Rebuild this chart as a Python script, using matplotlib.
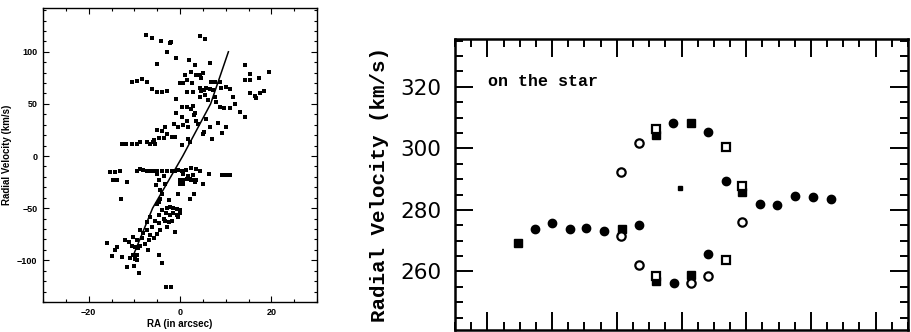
import matplotlib
matplotlib.use("Agg")
import matplotlib.pyplot as plt
from matplotlib.ticker import MultipleLocator

# ---------------- Left panel data (RA in arcsec, radial velocity km/s) -------------
ra_pts = [-7.4, -6.2, -4.1, -2.2, -2.0, -2.9, -5.1, -0.9, 4.4, 5.5, 2.0, 3.3, 6.5,
          -10.5, -9.5, -8.4, -7.3, -6.2, -5.1, -4.0, -2.9, -0.9, 0.0, 0.6, 1.1, 2.5, 3.5,
          4.4, 5.1, 4.6, 1.5, 2.6, 1.5, 2.8, 4.4, 4.6, 5.2, 5.8, 6.5, 7.3, 6.7, 7.6, 8.7,
          4.4, 5.5, 6.2, 7.6, 7.9, 8.9, 10.0, 10.9, 8.7, 9.6, 10.9, 12.0, 11.6, 13.1, 14.2,
          14.2, 15.3, 15.4, 14.2, 15.3, 16.4, 16.6, 17.5, 18.5, 19.5, 17.3,
          0.4, 1.5, 2.3, 2.8, 3.3, -0.9, 0.4, 1.5, 1.8, -1.3, -0.4, 0.6, 3.1, 3.6, 4.0,
          5.7, 6.5, 8.4, 10.0, 9.1, 5.1, 5.2, 7.1, -3.3, -4.0, -5.1, -2.9, -1.8, -1.1,
          -4.5, -3.6, -5.7, -5.5, 0.4, 1.8, 2.2,
          -12.7, -11.8, -10.5, -9.5, -8.7, -7.3, -6.5, -5.9,
          -15.3, -14.2, -14.7, -13.8, -13.1, -11.5, -12.9,
          -9.5, -8.7, -8.0, -7.3, -6.5, -5.8, -5.1, -4.0, -2.9, -1.8, -1.1, -0.4,
          0.4, 1.3, 2.5, 3.6, 4.4, 0.6, 1.8, 2.8, 2.9, 0.0, 0.7, 1.5, 2.2, 2.5, 3.6,
          0.0, 0.6, 3.3, 5.1, 6.4, 9.1, 10.0, 10.9,
          -5.1, -3.6, -4.7, -5.2, -4.4, -3.3, -4.0, -4.4, -4.7, -5.1, -2.3,
          -0.4, 2.2, 3.1, -2.2, -1.5, -0.7, 0.0, -2.9, -3.1, -2.2, -1.5, -0.7, 0.0, -0.4,
          -4.0, -4.7, -5.5, -4.5, -3.6, -3.3, -2.5, -1.8,
          -6.5, -7.3, -6.2, -4.4, -5.1, -2.9, -1.1,
          -8.7, -8.0, -7.3, -6.5, -5.8, -6.7, -6.9,
          -10.2, -9.5, -8.7, -7.6, -8.4, -10.5, -9.8, -9.1, -12.0, -11.1, -15.9,
          -13.8, -14.2, -14.9, -12.7, -10.9, -10.3, -9.8, -9.5,
          -11.5, -10.0, -9.5, -8.9, -4.5, -4.0, -3.1, -2.0]
vel_pts = [116, 113, 110, 108, 109, 100, 88, 94, 115, 112, 92, 87, 89,
           71, 72, 74, 71, 64, 61, 61, 62, 55, 70, 70, 78, 81, 78,
           78, 80, 75, 73, 70, 61, 61, 65, 62, 63, 65, 64, 63, 71, 71, 71,
           57, 59, 54, 57, 52, 65, 66, 64, 47, 46, 46, 50, 57, 42, 37,
           87, 79, 73, 73, 60, 58, 56, 60, 62, 81, 75,
           47, 47, 45, 48, 41, 41, 37, 34, 28, 31, 28, 30, 39, 34, 31,
           36, 28, 32, 28, 22, 21, 23, 16, 28, 24, 25, 21, 18, 18,
           17, 17, 15, 12, 11, 16, 13,
           12, 12, 12, 12, 13, 13, 12, 13,
           -15, -15, -23, -23, -14, -25, -41,
           -14, -12, -13, -14, -14, -14, -14, -14, -14, -14, -14, -13,
           -14, -13, -11, -12, -14, -17, -19, -18, -23, -23, -23, -22, -22, -23, -23,
           -27, -27, -25, -27, -17, -18, -18, -18,
           -17, -19, -23, -28, -33, -27, -36, -41, -44, -46, -42,
           -36, -41, -36, -49, -50, -51, -52, -50, -55, -57, -55, -57, -55, -58,
           -52, -57, -62, -64, -60, -62, -63, -62,
           -58, -63, -68, -71, -75, -68, -73,
           -71, -74, -71, -76, -79, -81, -90,
           -78, -81, -86, -84, -79, -86, -87, -88, -81, -82, -83,
           -87, -90, -96, -97, -98, -95, -99, -95,
           -106, -105, -100, -112, -95, -103, -126, -126]

# rotation-curve fit drawn as a line
fit_ra = [-10.2, -6.0, 0.6, 6.7, 10.6]
fit_vel = [-95, -50, 0, 50, 100]

# ---------------- Right panel data ("on the star") -------------
fc_x = [-2.26, -2.00, -1.73, -1.47, -1.19, -0.65, -0.12, -0.13, 0.41, 0.41, 0.68,
        1.21, 1.47, 1.76, 2.03, 2.31]
fc_y = [273.7, 275.7, 273.8, 274.2, 273.2, 275.1, 256.2, 308.3, 305.4, 265.7, 289.5,
        281.9, 281.6, 284.5, 284.1, 283.5]
fs_x = [-2.53, -0.92, -0.40, -0.39, 0.14, 0.14, 0.94]
fs_y = [269.2, 273.7, 304.3, 257.0, 308.3, 259.0, 285.8]
oc_x = [-0.94, -0.93, -0.66, -0.66, 0.14, 0.41, 0.94]
oc_y = [271.4, 292.4, 301.8, 262.2, 256.3, 258.6, 276.2]
os_x = [-0.40, -0.39, 0.68, 0.68, 0.94]
os_y = [306.3, 258.4, 300.5, 263.8, 287.8]
small_x = [-0.02]
small_y = [287.0]

fig = plt.figure(figsize=(9.11, 3.32), dpi=100)

# ---------------- Left panel -------------
ax1 = fig.add_axes([43 / 911, 30 / 332, 274 / 911, 294 / 332])
ax1.scatter(ra_pts, vel_pts, s=7, marker='s', color='black', linewidths=0)
ax1.plot(fit_ra, fit_vel, color='black', lw=1.1)
ax1.set_xlim(-30, 30)
ax1.set_ylim(-140, 142)
ax1.xaxis.set_major_locator(MultipleLocator(20))
ax1.xaxis.set_minor_locator(MultipleLocator(5))
ax1.yaxis.set_major_locator(MultipleLocator(50))
ax1.yaxis.set_minor_locator(MultipleLocator(10))
ax1.tick_params(which='both', direction='in', top=True, right=True, width=0.8)
ax1.tick_params(which='major', length=4, labelsize=6.5, pad=4)
ax1.tick_params(which='minor', length=2.2)
for lab in ax1.get_xticklabels() + ax1.get_yticklabels():
    lab.set_fontfamily('Liberation Sans')
    lab.set_fontweight('bold')
for sp in ax1.spines.values():
    sp.set_linewidth(1.0)
ax1.set_xlabel('RA (in arcsec)', fontsize=7, fontfamily='Liberation Sans',
               fontweight='bold', labelpad=2)
ax1.set_ylabel('Radial Velocity (km/s)', fontsize=7, fontfamily='Liberation Sans',
               fontweight='bold', labelpad=4)

# ---------------- Right panel -------------
ax2 = fig.add_axes([455 / 911, 2 / 332, 453 / 911, 291 / 332])
ax2.plot(fc_x, fc_y, 'o', ms=6, color='black', mec='black')
ax2.plot(fs_x, fs_y, 's', ms=5.2, color='black', mec='black')
ax2.plot(oc_x, oc_y, 'o', ms=6, mfc='white', mec='black', mew=1.6)
ax2.plot(os_x, os_y, 's', ms=5.2, mfc='white', mec='black', mew=1.6)
ax2.plot(small_x, small_y, 's', ms=3, color='black')
ax2.set_xlim(-3.5, 3.5)
ax2.set_ylim(241, 335.5)
ax2.xaxis.set_major_locator(MultipleLocator(1))
ax2.xaxis.set_minor_locator(MultipleLocator(0.25))
ax2.yaxis.set_major_locator(MultipleLocator(20))
ax2.yaxis.set_minor_locator(MultipleLocator(5))
ax2.tick_params(which='both', direction='in', top=True, right=True, width=1.4,
                labelbottom=False)
ax2.tick_params(which='major', length=13, labelsize=15.5, pad=10)
ax2.tick_params(which='minor', length=6)
for sp in ax2.spines.values():
    sp.set_linewidth(1.8)
ax2.set_ylabel('Radial Velocity (km/s)', fontsize=15, fontfamily='Liberation Mono',
               fontweight='bold', labelpad=8)
ax2.text(488, 332 - 82, 'on the star', transform=None, fontsize=12,
         fontfamily='Liberation Mono', fontweight='bold', va='center', ha='left')

fig.savefig('out.png', dpi=100)
